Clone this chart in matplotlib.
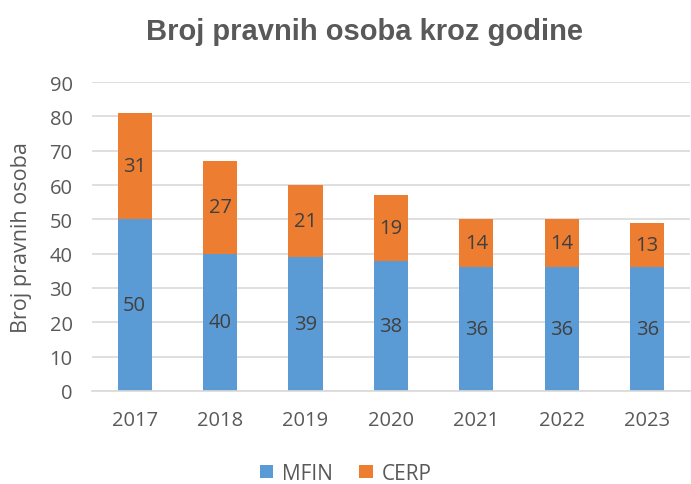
import numpy as np
import matplotlib
matplotlib.use("Agg")
import matplotlib.pyplot as plt

years = ["2017", "2018", "2019", "2020", "2021", "2022", "2023"]
mfin = [50, 40, 39, 38, 36, 36, 36]
cerp = [31, 27, 21, 19, 14, 14, 13]

blue = "#5B9BD5"
orange = "#ED7D31"
grey = "#595959"

plt.rcParams["font.family"] = ["Open Sans", "DejaVu Sans"]

fig = plt.figure(figsize=(6.91, 4.85), dpi=100)
ax = fig.add_axes([0.1331, 0.1918, 0.8654, 0.637])

x = np.arange(len(years))
w = 0.4
b1 = ax.bar(x, mfin, w, color=blue, label="MFIN", zorder=2)
b2 = ax.bar(x, cerp, w, bottom=mfin, color=orange, label="CERP", zorder=2)

for bars in (b1, b2):
    ax.bar_label(bars, label_type="center", color="#404040", fontsize=14.5)

ax.set_xlim(-0.5, len(years) - 0.5)
ax.set_ylim(0, 90)
ax.set_yticks(range(0, 91, 10))
ax.set_xticks(x)
ax.set_xticklabels(years)
ax.yaxis.grid(True, color="#D9D9D9", linewidth=1.2, zorder=0)
ax.set_axisbelow(True)
for s in ["top", "right", "left"]:
    ax.spines[s].set_visible(False)
ax.spines["bottom"].set_color("#D9D9D9")
ax.spines["bottom"].set_linewidth(1.2)
ax.tick_params(axis="both", length=0, labelsize=14.5, colors=grey)
ax.tick_params(axis="y", pad=14)
ax.tick_params(axis="x", pad=14)

ax.set_ylabel("Broj pravnih osoba", fontsize=15.5, color=grey)
ax.yaxis.set_label_coords(-0.1, 0.5)

fig.text(0.528, 0.935, "Broj pravnih osoba kroz godine", ha="center", va="center",
         fontsize=21, fontweight="bold", color=grey,
         family=["Liberation Sans", "DejaVu Sans"])

fig.legend(handles=[b1, b2], loc="center", bbox_to_anchor=(0.5, 0.022),
           ncol=2, frameon=False, fontsize=15, labelcolor=grey,
           handlelength=0.65, handleheight=0.65, handletextpad=0.4, columnspacing=1.3)

fig.savefig("out.png", dpi=100)
